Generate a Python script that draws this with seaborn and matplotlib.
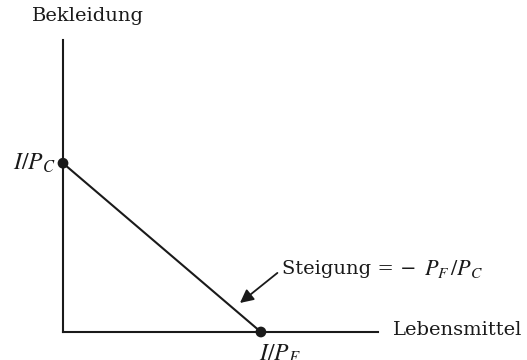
import pandas as pd
import seaborn as sns
from matplotlib import pyplot as plt

# budget line intercepts (arbitrary units)
food_max = 12.0      # I/P_F
clothing_max = 10.0  # I/P_C
budget_food = [0.0, food_max]
budget_clothing = [clothing_max, 0.0]
intercept_labels = ['$I/P_C$', '$I/P_F$']
x_label = 'Lebensmittel'
y_label = 'Bekleidung'
slope_text = 'Steigung = −'
slope_math = '$P_F\\,/P_C$'

sns.set_style('white')
plt.rcParams['font.family'] = ['DejaVu Serif']
plt.rcParams['mathtext.fontset'] = 'stix'

fig = plt.figure(figsize=(5.27, 3.6), dpi=100)
ax = fig.add_axes([63 / 527, 28 / 360, 315 / 527, 292 / 360])

df = pd.DataFrame({'food': budget_food, 'clothing': budget_clothing})
sns.lineplot(data=df, x='food', y='clothing', color='#1a1a1a', lw=1.5, ax=ax)
sns.scatterplot(data=df, x='food', y='clothing', color='#1a1a1a', s=60,
                edgecolor='none', clip_on=False, zorder=5, ax=ax)

ax.set_xlim(0, 19.1)
ax.set_ylim(0, 17.3)
for side in ['top', 'right']:
    ax.spines[side].set_visible(False)
for side in ['left', 'bottom']:
    ax.spines[side].set_color('#1a1a1a')
    ax.spines[side].set_linewidth(1.5)
ax.set_xticks([])
ax.set_yticks([])
ax.set_xlabel('')
ax.set_ylabel('')

fs = 14
mfs = 17
ax.text(1.5, 18.75, y_label, ha='center', va='center', fontsize=fs, color='#1a1a1a')
ax.text(19.1 + 0.9, 0.1, x_label, ha='left', va='center', fontsize=fs, color='#1a1a1a')
ax.text(-0.45, clothing_max, intercept_labels[0], ha='right', va='center',
        fontsize=mfs, color='#1a1a1a')
ax.text(food_max - 0.1, -0.65, intercept_labels[1], ha='left', va='top',
        fontsize=mfs, color='#1a1a1a')

# slope label and arrow
t = ax.text(13.3, 3.75, slope_text, ha='left', va='center', fontsize=fs, color='#1a1a1a')
ax.annotate(slope_math, xy=(1, 0.5), xycoords=t, xytext=(5, 0),
            textcoords='offset points', ha='left', va='center',
            fontsize=mfs - 1, color='#1a1a1a')
ax.annotate('', xy=(10.73, 1.72), xytext=(13.0, 3.5),
            arrowprops=dict(arrowstyle='-|>', color='#1a1a1a', lw=1.3,
                            mutation_scale=20, shrinkA=0, shrinkB=0))

fig.savefig('out.png', dpi=100)
